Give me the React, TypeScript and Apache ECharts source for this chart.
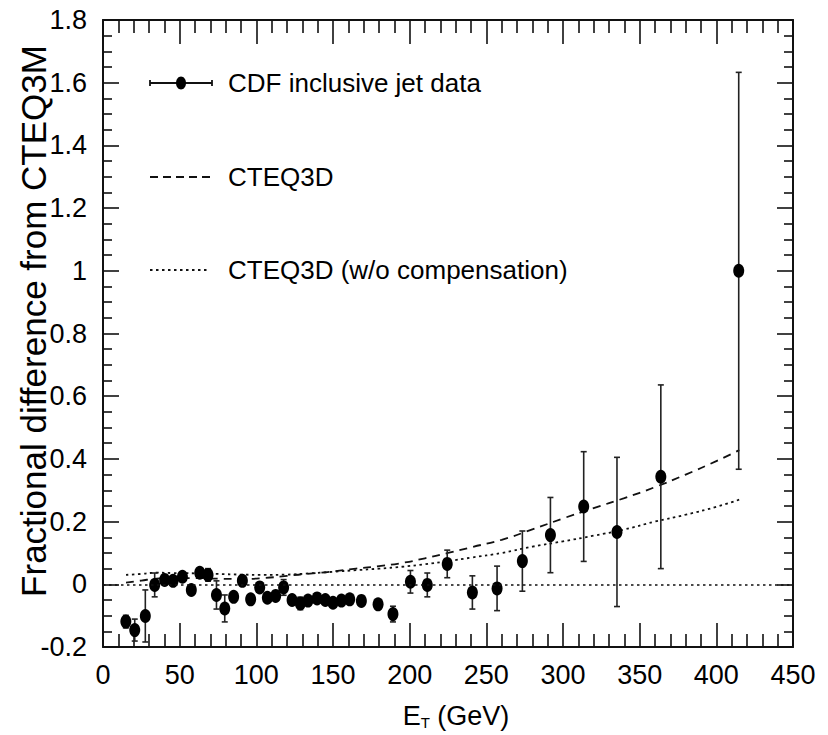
import React, { useEffect, useRef } from "react";
import * as echarts from "echarts";

// CDF inclusive jet measurement: fractional difference from CTEQ3M
const ET = [
  14.9, 20.7, 27.6, 33.7, 40.2, 45.7, 51.8, 57.6, 63.1, 68.5, 74.0, 79.4, 85.2, 90.9,
  96.3, 102.2, 107.2, 112.6, 117.8, 123.3, 128.7, 133.7, 139.6, 145.0, 150.0, 155.5,
  160.9, 168.5, 179.4, 189.1, 200.5, 211.5, 224.5, 240.9, 257.0, 273.5, 291.8, 313.5,
  335.2, 363.8, 414.6,
];
const FRAC = [
  -0.119, -0.146, -0.101, -0.002, 0.014, 0.011, 0.024, -0.018, 0.037, 0.03, -0.034, -0.077,
  -0.04, 0.011, -0.048, -0.01, -0.043, -0.037, -0.01, -0.05, -0.061, -0.052, -0.045, -0.05,
  -0.059, -0.052, -0.048, -0.053, -0.064, -0.095, 0.008, -0.002, 0.065, -0.026, -0.013,
  0.074, 0.157, 0.248, 0.167, 0.343, 1.0,
];
const ERR = [
  0.02, 0.035, 0.083, 0.038, 0.015, 0.012, 0.015, 0.012, 0.015, 0.02, 0.045, 0.043,
  0.012, 0.015, 0.012, 0.015, 0.012, 0.012, 0.025, 0.012, 0.02, 0.012, 0.012, 0.01,
  0.01, 0.01, 0.01, 0.01, 0.012, 0.025, 0.036, 0.038, 0.044, 0.053, 0.071, 0.096,
  0.12, 0.175, 0.238, 0.293, 0.633,
];

// Theory curves
const CURVE_ET = [
  15, 25, 35, 45, 60, 75, 90, 105, 120, 135, 150, 165, 180, 195, 210, 225, 240, 260, 280,
  300, 320, 340, 360, 380, 400, 415,
];
const CTEQ3D = [
  0.005, 0.012, 0.018, 0.02, 0.02, 0.018, 0.017, 0.02, 0.027, 0.034, 0.041, 0.05, 0.058,
  0.068, 0.083, 0.1, 0.118, 0.142, 0.175, 0.21, 0.243, 0.275, 0.31, 0.35, 0.393, 0.428,
];
const CTEQ3D_NOCOMP = [
  0.03, 0.033, 0.037, 0.036, 0.035, 0.033, 0.031, 0.03, 0.031, 0.035, 0.04, 0.045, 0.05,
  0.056, 0.064, 0.074, 0.085, 0.1, 0.12, 0.137, 0.155, 0.175, 0.2, 0.222, 0.247, 0.27,
];

const LEGEND_LABELS = ["CDF inclusive jet data", "CTEQ3D", "CTEQ3D (w/o compensation)"];
const Y_TITLE = "Fractional difference from CTEQ3M";

const FONT = "'Liberation Sans', Arial, sans-serif";
const INK = "#111";

export default function App() {
  const ref = useRef<HTMLDivElement>(null);

  useEffect(() => {
    if (!ref.current) return;
    const chart = echarts.init(ref.current, undefined, { renderer: "svg" });

    const tickLabel = {
      color: "#000",
      fontFamily: FONT,
      fontSize: 27,
    };

    const xBase = {
      type: "value",
      min: 0,
      max: 450,
      interval: 50,
      axisLine: { show: true, onZero: false, lineStyle: { color: INK, width: 2 } },
      axisTick: { show: true, inside: true, length: 24, lineStyle: { color: INK, width: 1.6 } },
      minorTick: { show: true, splitNumber: 5, length: 13, lineStyle: { color: INK, width: 1.6 } },
      splitLine: { show: false },
      minorSplitLine: { show: false },
    };
    const yBase = {
      type: "value",
      min: -0.2,
      max: 1.8,
      interval: 0.2,
      axisLine: { show: true, onZero: false, lineStyle: { color: INK, width: 2 } },
      axisTick: { show: true, inside: true, length: 16, lineStyle: { color: INK, width: 1.6 } },
      minorTick: { show: true, splitNumber: 4, length: 9, lineStyle: { color: INK, width: 1.6 } },
      splitLine: { show: false },
      minorSplitLine: { show: false },
    };

    const legendY = [83, 177, 270];
    const lx1 = 150;
    const lx2 = 212;
    const lineStroke = { stroke: INK, lineWidth: 1.8 };

    chart.setOption({
      animation: false,
      backgroundColor: "#fff",
      grid: { left: 103, right: 35, top: 20, bottom: 88, containLabel: false },
      xAxis: [
        {
          ...xBase,
          position: "bottom",
          axisLabel: { ...tickLabel, margin: 14 },
        },
        {
          ...xBase,
          position: "top",
          axisLabel: { show: false },
        },
      ],
      yAxis: [
        {
          ...yBase,
          position: "left",
          axisLabel: {
            ...tickLabel,
            margin: 16,
            formatter: (v: number) => String(parseFloat(v.toFixed(2))),
          },
        },
        {
          ...yBase,
          position: "right",
          axisLabel: { show: false },
        },
      ],
      series: [
        {
          name: "CTEQ3D",
          type: "line",
          data: CURVE_ET.map((x, i) => [x, CTEQ3D[i]]),
          showSymbol: false,
          smooth: true,
          lineStyle: { color: INK, width: 1.8, type: [8, 6] },
          z: 2,
        },
        {
          name: "CTEQ3D (w/o compensation)",
          type: "line",
          data: CURVE_ET.map((x, i) => [x, CTEQ3D_NOCOMP[i]]),
          showSymbol: false,
          smooth: true,
          lineStyle: { color: INK, width: 1.8, type: [2.5, 3.5] },
          z: 2,
        },
        {
          name: "errors",
          type: "custom",
          data: ET.map((x, i) => [x, FRAC[i] - ERR[i], FRAC[i] + ERR[i]]),
          encode: { x: 0, y: [1, 2] },
          renderItem: (params: any, api: any) => {
            const x = api.value(0);
            const top = api.coord([x, api.value(2)]);
            const bot = api.coord([x, api.value(1)]);
            const cap = 3;
            const style = { stroke: "#222", lineWidth: 1.6 };
            return {
              type: "group",
              children: [
                { type: "line", shape: { x1: top[0], y1: top[1], x2: bot[0], y2: bot[1] }, style },
                { type: "line", shape: { x1: top[0] - cap, y1: top[1], x2: top[0] + cap, y2: top[1] }, style },
                { type: "line", shape: { x1: bot[0] - cap, y1: bot[1], x2: bot[0] + cap, y2: bot[1] }, style },
              ],
            };
          },
          z: 3,
        },
        {
          name: "CDF inclusive jet data",
          type: "scatter",
          data: ET.map((x, i) => [x, FRAC[i]]),
          symbol: "circle",
          symbolSize: [11, 14],
          itemStyle: { color: "#000", opacity: 1 },
          z: 4,
          markLine: {
            silent: true,
            symbol: "none",
            label: { show: false },
            lineStyle: { color: INK, width: 1.6, type: [2.5, 3.5], opacity: 1 },
            data: [{ yAxis: 0 }],
          },
        },
      ],
      graphic: [
        // legend: data marker with error bar
        { type: "line", shape: { x1: lx1, y1: legendY[0], x2: lx2, y2: legendY[0] }, style: lineStroke },
        { type: "line", shape: { x1: lx1, y1: legendY[0] - 3, x2: lx1, y2: legendY[0] + 3 }, style: lineStroke },
        { type: "line", shape: { x1: lx2, y1: legendY[0] - 3, x2: lx2, y2: legendY[0] + 3 }, style: lineStroke },
        { type: "ellipse", shape: { cx: (lx1 + lx2) / 2, cy: legendY[0], rx: 5, ry: 6.5 }, style: { fill: "#000" } },
        // legend: dashed and dotted curves
        {
          type: "line",
          shape: { x1: lx1, y1: legendY[1], x2: lx2, y2: legendY[1] },
          style: { ...lineStroke, lineDash: [8, 5] },
        },
        {
          type: "line",
          shape: { x1: lx1, y1: legendY[2], x2: lx2 - 2, y2: legendY[2] },
          style: { ...lineStroke, lineDash: [2.5, 3.5] },
        },
        ...LEGEND_LABELS.map((t, i) => ({
          type: "text",
          x: 228,
          y: legendY[i],
          style: {
            text: t,
            fill: "#000",
            font: `26px ${FONT}`,
            align: "left",
            verticalAlign: "middle",
          },
        })),
        // axis titles
        {
          type: "text",
          x: 33,
          y: 321,
          rotation: Math.PI / 2,
          style: {
            text: Y_TITLE,
            fill: "#000",
            font: `35px ${FONT}`,
            align: "center",
            verticalAlign: "middle",
          },
        },
        {
          type: "text",
          x: 456,
          y: 716,
          style: {
            text: "{e|E}{s|T}{e| (GeV)}",
            align: "center",
            verticalAlign: "middle",
            rich: {
              e: { fontFamily: FONT, fontSize: 27, fill: "#000", color: "#000" },
              s: { fontFamily: FONT, fontSize: 15, fill: "#000", color: "#000", padding: [12, 0, 0, 0] },
            },
          },
        },
      ],
    });

    return () => chart.dispose();
  }, []);

  return (
    <div
      ref={ref}
      style={{ position: "absolute", left: 0, top: 0, width: 828, height: 735 }}
    />
  );
}
